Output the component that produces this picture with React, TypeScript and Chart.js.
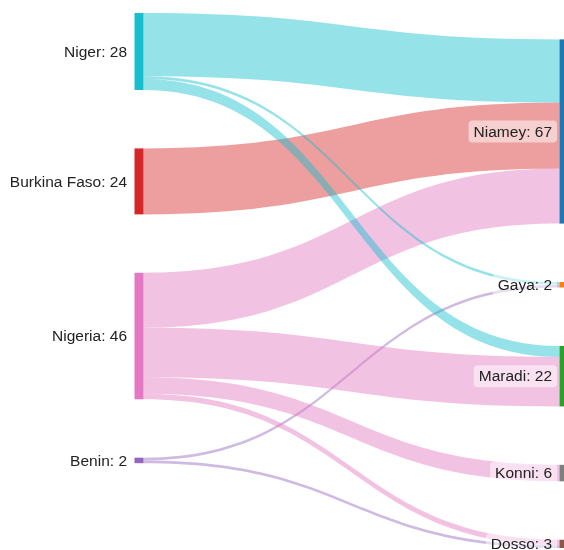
import { useEffect, useRef } from 'react';
import { Chart, registerables } from 'chart.js';

Chart.register(...registerables);

// ---- data ----
const nodeNames = ['Niger', 'Burkina Faso', 'Nigeria', 'Benin', 'Niamey', 'Gaya', 'Maradi', 'Konni', 'Dosso'];
const nodeColumns = [0, 0, 0, 0, 1, 1, 1, 1, 1];
const nodeColors = ['#17becf', '#d62728', '#e377c2', '#9467bd', '#1f77b4', '#ff7f0e', '#2ca02c', '#7f7f7f', '#8c564b'];
const flowFrom = ['Niger', 'Niger', 'Niger', 'Burkina Faso', 'Nigeria', 'Nigeria', 'Nigeria', 'Nigeria', 'Benin', 'Benin'];
const flowTo = ['Niamey', 'Gaya', 'Maradi', 'Niamey', 'Niamey', 'Maradi', 'Konni', 'Dosso', 'Gaya', 'Dosso'];
const flowValues = [23, 1, 4, 24, 20, 18, 6, 2, 1, 1];

// ---- layout (value units) ----
const NODE_PAD = 21.25;
const COLUMN_OFFSET = [0, 9.6];
const Y_MAX = 194.6;
const NODE_WIDTH = 9;
const FLOW_ALPHA = 0.45;
const CURVATURE = 0.5;
const FONT = '15.5px "Liberation Sans", Arial, sans-serif';

type NodeInfo = { name: string; col: number; color: string; size: number; y: number };

function buildLayout() {
  const nodes: NodeInfo[] = nodeNames.map((name, i) => {
    let inSum = 0, outSum = 0;
    flowValues.forEach((v, k) => {
      if (flowFrom[k] === name) outSum += v;
      if (flowTo[k] === name) inSum += v;
    });
    return { name, col: nodeColumns[i], color: nodeColors[i], size: Math.max(inSum, outSum), y: 0 };
  });
  const cols = Array.from(new Set(nodeColumns));
  cols.forEach((c) => {
    let y = COLUMN_OFFSET[c] || 0;
    nodes.filter((n) => n.col === c).forEach((n) => {
      n.y = y;
      y += n.size + NODE_PAD;
    });
  });
  const byName: Record<string, NodeInfo> = {};
  nodes.forEach((n) => (byName[n.name] = n));
  const flows = flowValues.map((v, k) => ({ from: byName[flowFrom[k]], to: byName[flowTo[k]], value: v, y0: 0, y1: 0 }));
  nodes.forEach((n) => {
    const outs = flows.filter((f) => f.from === n).sort((a, b) => a.to.y - b.to.y);
    let o = n.y;
    outs.forEach((f) => { f.y0 = o; o += f.value; });
    const ins = flows.filter((f) => f.to === n).sort((a, b) => a.from.y - b.from.y);
    let i = n.y;
    ins.forEach((f) => { f.y1 = i; i += f.value; });
  });
  return { nodes, flows };
}

function hexToRgba(hex: string, a: number) {
  const h = hex.replace('#', '');
  const r = parseInt(h.slice(0, 2), 16), g = parseInt(h.slice(2, 4), 16), b = parseInt(h.slice(4, 6), 16);
  return `rgba(${r},${g},${b},${a})`;
}

const sankeyPlugin = {
  id: 'sankeyDraw',
  afterDatasetsDraw(chart: any) {
    const { ctx } = chart;
    const xs = chart.scales.x;
    const ys = chart.scales.y;
    const { nodes, flows } = buildLayout();
    const nodeX = (n: NodeInfo) => xs.getPixelForValue(n.col);

    ctx.save();
    for (let k = flows.length - 1; k >= 0; k--) {
      const f = flows[k];
      const x0 = nodeX(f.from) + NODE_WIDTH;
      const x1 = nodeX(f.to);
      const a0 = ys.getPixelForValue(f.y0);
      const b0 = ys.getPixelForValue(f.y0 + f.value);
      const a1 = ys.getPixelForValue(f.y1);
      const b1 = ys.getPixelForValue(f.y1 + f.value);
      const dx = x1 - x0;
      const c1 = x0 + dx * CURVATURE;
      const c2 = x1 - dx * CURVATURE;
      ctx.beginPath();
      ctx.moveTo(x0, a0);
      ctx.bezierCurveTo(c1, a0, c2, a1, x1, a1);
      ctx.lineTo(x1, b1);
      ctx.bezierCurveTo(c2, b1, c1, b0, x0, b0);
      ctx.closePath();
      ctx.fillStyle = hexToRgba(f.from.color, FLOW_ALPHA);
      ctx.fill();
    }
    nodes.forEach((n) => {
      const x = nodeX(n);
      const top = ys.getPixelForValue(n.y);
      const bot = ys.getPixelForValue(n.y + n.size);
      ctx.fillStyle = n.color;
      ctx.fillRect(x, top, NODE_WIDTH, bot - top);
    });
    ctx.font = FONT;
    ctx.textAlign = 'right';
    ctx.textBaseline = 'middle';
    nodes.forEach((n) => {
      const x = nodeX(n);
      const cy = (ys.getPixelForValue(n.y) + ys.getPixelForValue(n.y + n.size)) / 2;
      const text = `${n.name}: ${n.size}`;
      const tx = x - 7.5;
      const w = ctx.measureText(text).width;
      ctx.fillStyle = 'rgba(255,255,255,0.5)';
      ctx.beginPath();
      if (ctx.roundRect) ctx.roundRect(tx - w - 5, cy - 11, w + 10, 22, 4);
      else ctx.rect(tx - w - 5, cy - 11, w + 10, 22);
      ctx.fill();
      ctx.fillStyle = '#222';
      ctx.fillText(text, tx, cy + 1);
    });
    ctx.restore();
  },
};

export default function App() {
  const ref = useRef<HTMLCanvasElement>(null);
  useEffect(() => {
    document.body.style.margin = '0';
    const chart = new Chart(ref.current!, {
      type: 'scatter',
      data: { datasets: [{ data: [] }] },
      options: {
        responsive: false,
        animation: false,
        layout: { padding: { left: 134.5, right: 4.5, top: 13, bottom: 2 } },
        scales: {
          x: { type: 'linear', min: 0, max: 1, display: false },
          y: { type: 'linear', min: 0, max: Y_MAX, reverse: true, display: false },
        },
        plugins: { legend: { display: false }, tooltip: { enabled: false } },
      },
      plugins: [sankeyPlugin],
    } as any);
    return () => chart.destroy();
  }, []);
  return (
    <div style={{ width: 564, height: 550 }}>
      <canvas ref={ref} width={564} height={550} style={{ display: 'block' }} />
    </div>
  );
}
